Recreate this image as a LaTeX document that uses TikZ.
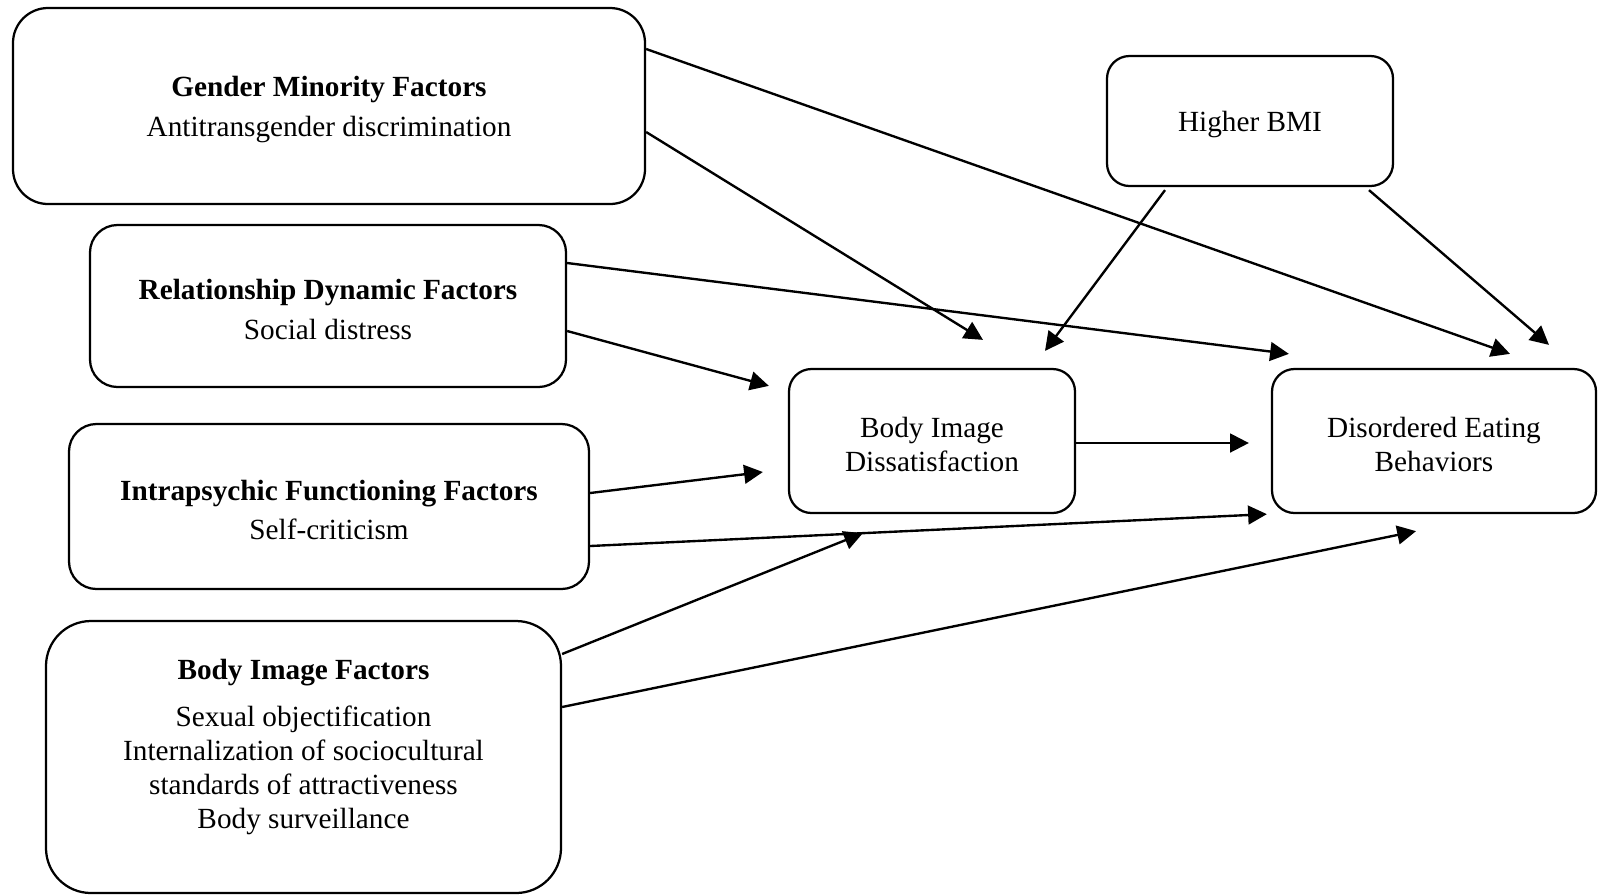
\documentclass[tikz,border=0pt]{standalone}
\usepackage{fontspec}
\setmainfont{Liberation Serif}
\usepackage{tikz}
\usetikzlibrary{arrows.meta, positioning, calc}
\newcommand{\topstrut}{\rule{0pt}{0.93em}}
\tikzset{
    factorbox/.style={draw, rectangle, rounded corners=11pt, line width=0.9pt, align=center, font=\fontsize{11.7}{13.6}\selectfont},
    outcomebox/.style={factorbox, rounded corners=9pt, minimum width=114.4pt, minimum height=57.6pt},
    boxtext/.style={align=center, font=\fontsize{11.7}{13.6}\selectfont},
    patharrow/.style={-{Triangle[length=7.5pt, width=7.5pt]}, line width=0.95pt},
}

\begin{document}
\begin{tikzpicture}[x=0.4pt, y=0.4pt]
                \useasboundingbox (0,0) rectangle (1598,-895);
                % Predictor boxes
                \node[factorbox, rounded corners=14pt, minimum width=252.8pt, minimum height=78.4pt] (gender) at (329,-106)
                      {\topstrut\textbf{Gender Minority Factors}\\[2.5pt]Antitransgender discrimination};
                \node[factorbox, minimum width=190.4pt, minimum height=64.8pt] (relation) at (328,-306)
                      {\topstrut\textbf{Relationship Dynamic Factors}\\[2.5pt]Social distress};
                \node[factorbox, minimum width=208pt, minimum height=66pt] (intra) at (329,-506.5)
                      {\topstrut\textbf{Intrapsychic Functioning Factors}\\[2pt]Self-criticism};
                \node[factorbox, rounded corners=18pt, minimum width=206pt, minimum height=108.8pt] (bodyfac) at (303.5,-757) {};
                \node[boxtext] (bodyfactext) at ($(bodyfac)+(0,10)$)
                      {\textbf{Body Image Factors}\\[5pt]Sexual objectification\\Internalization of sociocultural\\standards of attractiveness\\Body surveillance};
                \node[outcomebox, minimum height=52pt] (bmi) at (1250,-121) {\topstrut Higher BMI};
                % Mediator and outcome
                \node[outcomebox] (bid) at (932,-441) {\topstrut Body Image\\Dissatisfaction};
                \node[outcomebox, minimum width=129.6pt] (deb) at (1434,-441) {\topstrut Disordered Eating\\Behaviors};
                
                \draw[patharrow] ($(gender.east)+(0,57)$) -- ($(deb.north)+(76,14)$);
                \draw[patharrow] ($(gender.east)+(0,-26)$) -- ($(bid.north)+(51,28)$);
                \draw[patharrow] ($(relation.east)+(0,43)$) -- ($(deb.north west)+(18,14)$);
                \draw[patharrow] ($(relation.east)+(0,-25)$) -- ($(bid.north west)+(-19,-18)$);
                \draw[patharrow] ($(intra.east)+(0,13.5)$) -- ($(bid.west)+(-25,-31)$);
                \draw[patharrow] ($(intra.east)+(0,-39.5)$) -- ($(deb.south west)+(-4,0)$);
                \draw[patharrow] ($(bodyfac.east)+(0,103)$) -- ($(bid.south west)+(75,-19)$);
                \draw[patharrow] ($(bodyfac.east)+(0,50)$) -- ($(deb.south)+(-18,-17)$);
                \draw[patharrow] ($(bmi.south)+(-85,-3)$) -- ($(bid.north)+(113,17)$);
                \draw[patharrow] ($(bmi.south)+(119,-3)$) -- ($(deb.north)+(115,23)$);
                \draw[patharrow] ($(bid.east)+(0,-2)$) -- ($(deb.west)+(-22,-2)$);
            \end{tikzpicture}
\end{document}
